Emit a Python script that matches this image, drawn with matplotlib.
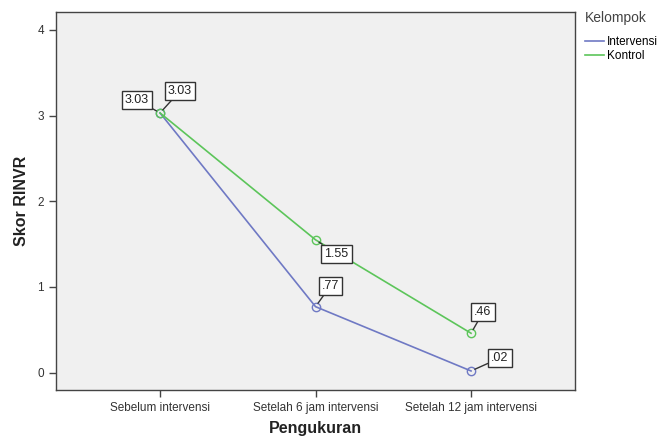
import matplotlib
matplotlib.use("Agg")
import matplotlib.pyplot as plt

plt.rcParams['font.family'] = ['Liberation Sans', 'DejaVu Sans']

categories = ["Sebelum intervensi", "Setelah 6 jam intervensi", "Setelah 12 jam intervensi"]
intervensi = [3.03, 0.77, 0.02]
kontrol = [3.03, 1.55, 0.46]
intervensi_labels = ["3.03", ".77", ".02"]
kontrol_labels = ["3.03", "1.55", ".46"]

blue = "#6f79c4"
green = "#5cc55a"

fig = plt.figure(figsize=(6.65, 4.38), dpi=100)
ax = fig.add_axes([0.084, 0.110, 0.781, 0.863])
ax.set_facecolor("#f0f0f0")

x = list(range(len(categories)))
ax.plot(x, intervensi, color=blue, lw=1.2, marker='o', mfc='none', mec=blue, ms=6, label="Intervensi")
ax.plot(x, kontrol, color=green, lw=1.2, marker='o', mfc='none', mec=green, ms=6, label="Kontrol")

box = dict(boxstyle='square,pad=0.25', fc='white', ec='#333333', lw=1)
arrow = dict(arrowstyle='-', color='#333333', lw=1, shrinkA=0, shrinkB=3)
int_offsets = [(-23, 13), (15, 21), (29, 13)]
kon_offsets = [(20, 22), (21, -14), (12, 21)]
for i in x:
    ax.annotate(intervensi_labels[i], (i, intervensi[i]), xytext=int_offsets[i], textcoords='offset pixels',
                ha='center', va='center', fontsize=9, color='#222222', bbox=box, arrowprops=arrow)
    ax.annotate(kontrol_labels[i], (i, kontrol[i]), xytext=kon_offsets[i], textcoords='offset pixels',
                ha='center', va='center', fontsize=9, color='#222222', bbox=box, arrowprops=arrow)

ax.set_xlim(-0.67, 2.67)
ax.set_ylim(-0.2, 4.21)
ax.set_xticks(x)
ax.set_xticklabels(categories, fontsize=8.5, color='#333333')
ax.set_yticks([0, 1, 2, 3, 4])
ax.set_yticklabels(["0", "1", "2", "3", "4"], fontsize=8.5, color='#333333')
ax.tick_params(axis='both', length=5, color='#444444', width=1)
for s in ax.spines.values():
    s.set_color('#444444')
    s.set_linewidth(1)

ax.set_ylabel("Skor RINVR", fontsize=11.5, fontweight='bold', color='#222222', labelpad=6)
ax.set_xlabel("Pengukuran", fontsize=11.5, fontweight='bold', color='#222222', labelpad=5)

leg = fig.legend(loc='upper left', bbox_to_anchor=(0.873, 0.985), frameon=False, title="Kelompok",
                 fontsize=8.5, title_fontsize=10, handlelength=1.6, handletextpad=0.2, labelspacing=0.15,
                 borderaxespad=0, alignment='left')
for h in leg.legend_handles:
    h.set_marker('')
leg.get_title().set_color('#444444')
leg._legend_box.sep = 8

fig.savefig("out.png", dpi=100)
